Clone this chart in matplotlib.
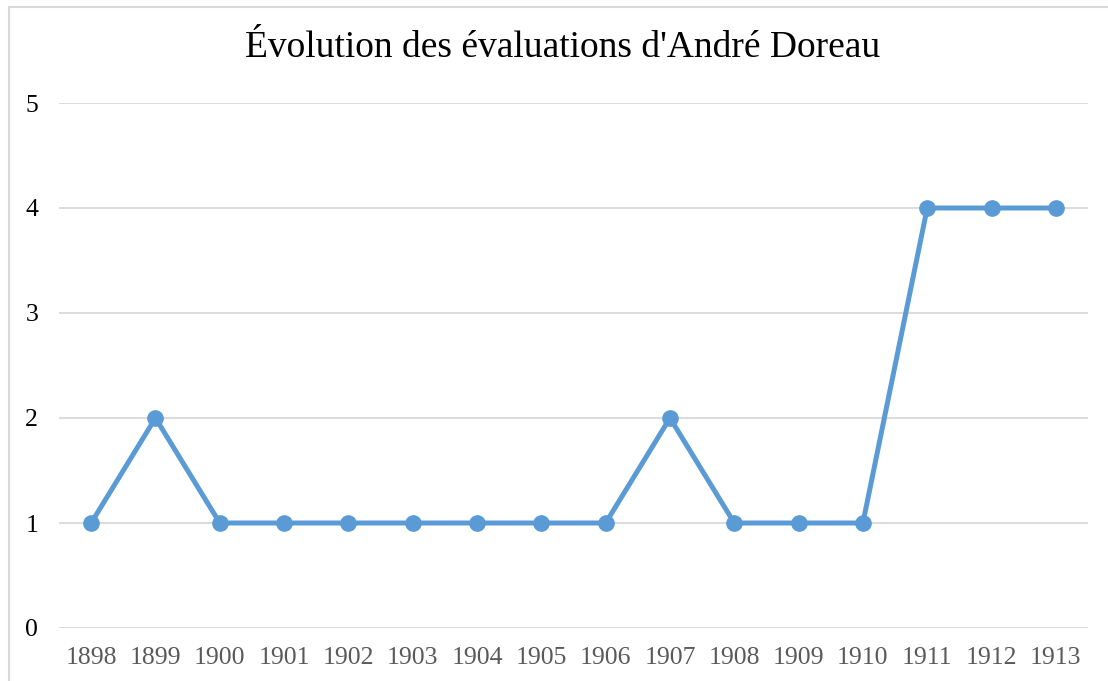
import matplotlib.pyplot as plt
from matplotlib.patches import Rectangle

years = ['1898', '1899', '1900', '1901', '1902', '1903', '1904', '1905',
         '1906', '1907', '1908', '1909', '1910', '1911', '1912', '1913']
scores = [1, 2, 1, 1, 1, 1, 1, 1, 1, 2, 1, 1, 1, 4, 4, 4]

plt.rcParams['font.family'] = ['Liberation Serif', 'DejaVu Serif']

fig = plt.figure(figsize=(11.08, 6.81), dpi=100)
ax = fig.add_axes([59 / 1108, 1 - 628 / 681, (1088 - 59) / 1108, (628 - 103) / 681])

# outer chart border (cut off on right and bottom like the reference)
fig.patches.append(Rectangle((9 / 1108, -0.05), 1.1, 1 - 7 / 681 + 0.05,
                             transform=fig.transFigure, fill=False,
                             edgecolor='#d9d9d9', linewidth=1.5))

x = list(range(len(years)))
ax.plot(x, scores, color='#5b9bd5', linewidth=3.6, marker='o', markersize=11,
        zorder=3, clip_on=False)

ax.set_xlim(-0.5, len(years) - 0.5)
ax.set_ylim(0, 5)
ax.set_yticks(range(6))
ax.set_xticks(x)
ax.set_xticklabels(years)
ax.grid(axis='y', color='#d9d9d9', linewidth=1.3)
ax.set_axisbelow(True)
for s in ax.spines.values():
    s.set_visible(False)
ax.tick_params(length=0)
ax.tick_params(axis='x', colors='#595959', labelsize=18.5, pad=14)
ax.tick_params(axis='y', colors='black', labelsize=18.5, pad=15)

fig.text(563 / 1108, 1 - 48 / 681, "Évolution des évaluations d'André Doreau",
         ha='center', va='center', fontsize=27)

fig.savefig('out.png', dpi=100)
